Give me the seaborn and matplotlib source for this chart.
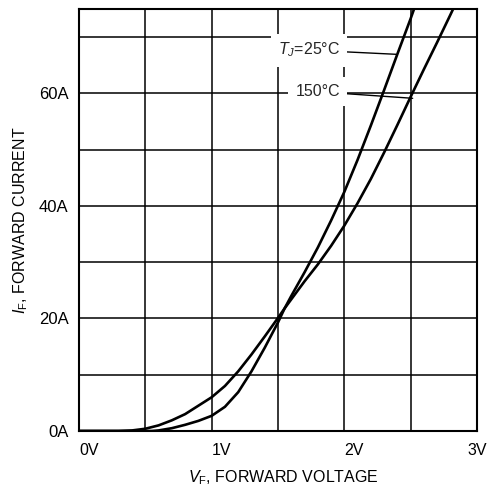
import pandas as pd
import matplotlib.pyplot as plt
import seaborn as sns

# forward voltage (V) / forward current (A)
v_25c = [0.0, 0.55, 0.6, 0.7, 0.8, 0.9, 1.0, 1.1, 1.2, 1.3, 1.4, 1.5, 1.55,
         1.6, 1.7, 1.8, 1.9, 2.0, 2.1, 2.2, 2.3, 2.4, 2.5, 2.53]
i_25c = [0.0, 0.0, 0.1, 0.5, 1.1, 1.8, 2.7, 4.3, 6.9, 10.6, 14.8, 19.3, 21.8,
         24.0, 28.2, 32.6, 37.4, 42.5, 48.2, 54.3, 60.6, 67.0, 73.3, 75.3]

v_150c = [0.0, 0.3, 0.4, 0.5, 0.6, 0.7, 0.8, 0.9, 1.0, 1.1, 1.2, 1.3, 1.4,
          1.5, 1.55, 1.6, 1.7, 1.8, 1.9, 2.0, 2.1, 2.2, 2.3, 2.4, 2.5, 2.6,
          2.7, 2.8, 2.83]
i_150c = [0.0, 0.0, 0.1, 0.4, 1.0, 1.9, 3.0, 4.5, 6.0, 8.0, 10.6, 13.6, 16.8,
          20.1, 21.8, 23.4, 26.6, 29.6, 32.9, 36.5, 40.5, 44.8, 49.5, 54.4,
          59.4, 64.3, 69.1, 74.0, 75.5]

x_ticks = [0, 0.5, 1, 1.5, 2, 2.5, 3]
x_labels = ['0V', '', '1V', '', '2V', '', '3V']
y_ticks = [0, 10, 20, 30, 40, 50, 60, 70]
y_labels = ['0A', '', '20A', '', '40A', '', '60A', '']

df = pd.concat([
    pd.DataFrame({'V': v_25c, 'I': i_25c, 'Tj': '25'}),
    pd.DataFrame({'V': v_150c, 'I': i_150c, 'Tj': '150'}),
])

sns.set_style('white')
plt.rcParams['font.family'] = ['Liberation Sans', 'DejaVu Sans']
plt.rcParams['mathtext.fontset'] = 'custom'
plt.rcParams['mathtext.rm'] = 'Liberation Sans'
plt.rcParams['mathtext.it'] = 'Liberation Sans:italic'

fig = plt.figure(figsize=(4.89, 4.88), dpi=100)
ax = fig.add_axes([79 / 489, 1 - 431 / 488, 398 / 489, 422 / 488])

sns.lineplot(data=df, x='V', y='I', hue='Tj', units='Tj', estimator=None,
             palette=['black', 'black'], linewidth=1.9, legend=False, ax=ax,
             zorder=3)

ax.set_xlim(0, 3)
ax.set_ylim(0, 75)
ax.set_xticks(x_ticks)
ax.set_xticklabels(x_labels, fontsize=11.5)
ax.set_yticks(y_ticks)
ax.set_yticklabels(y_labels, fontsize=12)
for lab in ax.get_xticklabels():
    lab.set_horizontalalignment('left')
ax.get_xticklabels()[-1].set_horizontalalignment('center')
ax.tick_params(axis='x', length=0, pad=8.5, colors='black')
ax.tick_params(axis='y', length=0, pad=7.5, colors='black')

ax.grid(True, color='black', linewidth=1.1, zorder=1)
ax.set_axisbelow(True)
for s in ax.spines.values():
    s.set_color('black')
    s.set_linewidth(1.5)

ax.set_xlabel(r'$V_{\mathrm{F}}$, FORWARD VOLTAGE', fontsize=11.5, color='black')
ax.set_ylabel(r'$I_{\mathrm{F}}$, FORWARD CURRENT', fontsize=11.5, color='black')
ax.xaxis.set_label_coords(0.514, -0.088)
ax.yaxis.set_label_coords(-0.122, 0.5)

box = dict(boxstyle='square,pad=0.45', fc='white', ec='none')
ax.annotate(r'$T_J$=25°C', xy=(2.389, 66.95), xytext=(1.967, 67.7),
            ha='right', va='center', fontsize=11.5, bbox=box, zorder=4,
            arrowprops=dict(arrowstyle='-', color='black', lw=1.0,
                            shrinkA=0, shrinkB=0))
ax.annotate('150°C', xy=(2.515, 59.13), xytext=(1.967, 60.3),
            ha='right', va='center', fontsize=11.5, bbox=box, zorder=4,
            arrowprops=dict(arrowstyle='-', color='black', lw=1.0,
                            shrinkA=0, shrinkB=0))

plt.savefig('out.png', dpi=100)
plt.close()
